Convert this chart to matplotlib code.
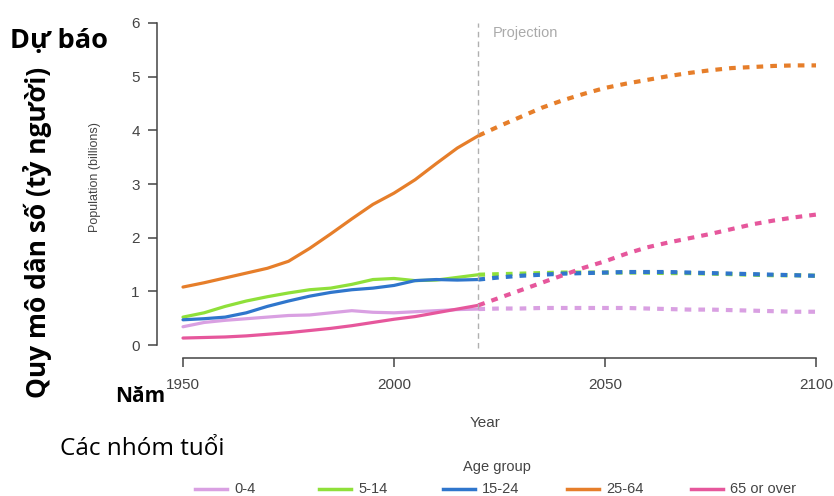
import matplotlib
matplotlib.use('Agg')
import matplotlib.pyplot as plt
from matplotlib.lines import Line2D
import numpy as np

# population by age group, billions
years_hist = [1950, 1955, 1960, 1965, 1970, 1975, 1980, 1985, 1990, 1995, 2000, 2005, 2010, 2015, 2020]
years_proj = [2020, 2025, 2030, 2035, 2040, 2045, 2050, 2055, 2060, 2065, 2070, 2075, 2080, 2085, 2090, 2095, 2100]

age_groups = ['0-4', '5-14', '15-24', '25-64', '65 or over']
colors = ['#d9a0e2', '#8fe03a', '#2f76cc', '#e67e2a', '#e6579c']

hist_0_4 = [0.34, 0.42, 0.46, 0.49, 0.52, 0.55, 0.56, 0.60, 0.64, 0.61, 0.60, 0.62, 0.64, 0.66, 0.67]
hist_5_14 = [0.52, 0.60, 0.72, 0.82, 0.90, 0.97, 1.03, 1.06, 1.13, 1.22, 1.24, 1.20, 1.21, 1.26, 1.31]
hist_15_24 = [0.47, 0.49, 0.52, 0.60, 0.72, 0.82, 0.91, 0.98, 1.03, 1.06, 1.11, 1.20, 1.22, 1.21, 1.22]
hist_25_64 = [1.08, 1.16, 1.25, 1.34, 1.43, 1.56, 1.80, 2.07, 2.35, 2.62, 2.83, 3.08, 3.38, 3.67, 3.90]
hist_65 = [0.13, 0.14, 0.15, 0.17, 0.20, 0.23, 0.27, 0.31, 0.36, 0.42, 0.48, 0.53, 0.60, 0.67, 0.74]

proj_0_4 = [0.67, 0.68, 0.68, 0.69, 0.69, 0.69, 0.69, 0.69, 0.68, 0.67, 0.66, 0.66, 0.65, 0.64, 0.63, 0.62, 0.62]
proj_5_14 = [1.31, 1.32, 1.33, 1.34, 1.35, 1.35, 1.35, 1.35, 1.35, 1.34, 1.34, 1.33, 1.32, 1.31, 1.30, 1.30, 1.29]
proj_15_24 = [1.22, 1.26, 1.29, 1.31, 1.33, 1.34, 1.35, 1.36, 1.36, 1.36, 1.35, 1.34, 1.33, 1.32, 1.31, 1.30, 1.29]
proj_25_64 = [3.90, 4.08, 4.25, 4.42, 4.56, 4.68, 4.79, 4.87, 4.94, 5.01, 5.07, 5.12, 5.16, 5.18, 5.20, 5.21, 5.21]
proj_65 = [0.74, 0.88, 1.02, 1.16, 1.30, 1.44, 1.56, 1.70, 1.82, 1.91, 1.99, 2.07, 2.16, 2.25, 2.32, 2.38, 2.43]

hist = [hist_0_4, hist_5_14, hist_15_24, hist_25_64, hist_65]
proj = [proj_0_4, proj_5_14, proj_15_24, proj_25_64, proj_65]

yticks = [0, 1, 2, 3, 4, 5, 6]
xticks = [1950, 2000, 2050, 2100]
projection_start = 2020

W, H = 834, 496
plt.rcParams['font.family'] = ['Liberation Sans', 'DejaVu Sans']

fig = plt.figure(figsize=(W / 100, H / 100), dpi=100)
ax = fig.add_axes([157 / W, 138 / H, 665 / W, 335 / H])

for vals, c in zip(hist, colors):
    ax.plot(years_hist, vals, color=c, lw=2.3, solid_capstyle='round',
            solid_joinstyle='round', clip_on=False)
for vals, c in zip(proj, colors):
    ax.plot(years_proj, vals, color=c, lw=3, dashes=(1.6, 1.7), dash_capstyle='butt', clip_on=False)

ax.axvline(projection_start, ymin=0.03, ymax=1.0, color='#b0b0b0', lw=1, dashes=(4, 3))
ax.text(2023.3, 5.81, 'Projection', color='#aaaaaa', fontsize=10.5, va='center', ha='left')

ax.set_xlim(1943.84, 2101.42)
ax.set_ylim(-0.242, 6)
ax.set_xticks(xticks)
ax.set_yticks(yticks)

for s in ['top', 'right']:
    ax.spines[s].set_visible(False)
ax.spines['left'].set_bounds(0, 6)
ax.spines['bottom'].set_bounds(1950, 2100)
for s in ['left', 'bottom']:
    ax.spines[s].set_color('#444444')
    ax.spines[s].set_linewidth(1.1)
ax.tick_params(axis='both', direction='out', length=6.5, width=1.1, color='#444444',
               labelcolor='#444444', labelsize=11)
ax.tick_params(axis='x', pad=8)
ax.tick_params(axis='y', pad=6)

def px(x, y):
    return x / W, 1 - y / H

fig.text(*px(95, 177), 'Population (billions)', rotation=90, fontsize=9,
         color='#444444', ha='center', va='center')
fig.text(*px(485, 423), 'Year', fontsize=11, color='#444444', ha='center', va='center')

# legend row along the bottom
fig.text(*px(497, 467), 'Age group', fontsize=10.5, color='#444444', ha='center', va='center')
for i, (name, c) in enumerate(zip(age_groups, colors)):
    x0 = 195 + i * 124
    fig.add_artist(Line2D([x0 / W, (x0 + 32) / W], [1 - 489 / H] * 2, color=c, lw=2.5,
                          transform=fig.transFigure))
    fig.text(*px(x0 + 39, 489), name, fontsize=10.5, color='#444444', ha='left', va='center')

# Vietnamese annotations
vn = ['Open Sans', 'DejaVu Sans']
fig.text(*px(10, 48), 'Dự báo', family=vn, fontsize=19.5, fontweight='bold', va='baseline', ha='left')
fig.text(*px(38, 232), 'Quy mô dân số (tỷ người)', family=vn, fontsize=19, fontweight='bold',
         rotation=90, ha='center', va='center')
fig.text(*px(115, 402), 'Năm', family=vn, fontsize=15, fontweight='bold', va='baseline', ha='left')
fig.text(*px(60, 455), 'Các nhóm tuổi', family=vn, fontsize=17.5, va='baseline', ha='left')

fig.savefig('out.png', dpi=100)
